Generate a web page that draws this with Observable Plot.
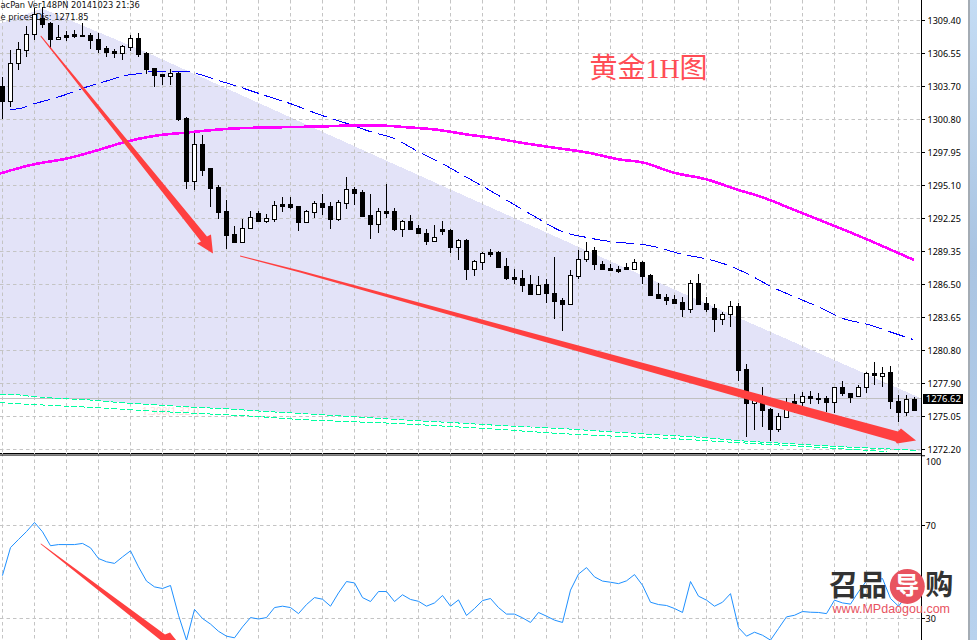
<!DOCTYPE html>
<html>
<head>
<meta charset="utf-8">
<script src="https://cdn.jsdelivr.net/npm/d3@7"></script>
<script src="https://cdn.jsdelivr.net/npm/@observablehq/plot@0.6"></script>
<style>
html,body{margin:0;padding:0;background:#fff;overflow:hidden}
#wrap{position:relative;width:977px;height:640px;overflow:hidden}
#wrap svg{display:block}
#bar1{position:absolute;left:968px;top:0;width:2px;height:640px;background:#a4acb4}
#bar2{position:absolute;left:970px;top:0;width:7px;height:640px;background:linear-gradient(#c4dcf4,#a9c4e2 40%,#b8d2ee)}
</style>
</head>
<body>
<div id="wrap"><div id="bar1"></div><div id="bar2"></div></div>
<script>
const opens=[1303.57,1302.28,1305.56,1306.68,1308.06,1309.45,1309.01,1307.63,1307.98,1308.06,1307.98,1307.98,1307.63,1306.85,1306.60,1306.42,1306.94,1307.72,1306.42,1305.13,1304.61,1304.44,1304.70,1300.81,1295.37,1298.56,1296.49,1294.85,1292.78,1290.79,1290.10,1291.31,1292.60,1291.91,1292.09,1293.38,1293.38,1293.21,1291.83,1292.69,1293.47,1293.21,1292.09,1293.47,1294.68,1294.42,1292.43,1291.66,1292.78,1292.78,1291.22,1291.91,1291.31,1290.88,1290.19,1291.22,1291.14,1289.67,1290.27,1287.77,1288.37,1289.24,1289.24,1288.03,1287.08,1286.99,1286.47,1285.61,1286.47,1285.70,1285.09,1284.75,1287.16,1288.63,1289.41,1288.20,1287.86,1287.77,1287.94,1287.77,1288.37,1287.25,1285.61,1285.35,1285.18,1284.92,1284.31,1286.56,1284.83,1284.40,1283.45,1283.88,1284.57,1279.13,1276.20,1276.46,1275.68,1273.95,1274.99,1276.37,1276.28,1276.80,1276.63,1276.63,1276.28,1277.58,1277.06,1276.80,1277.58,1278.79,1278.53,1278.87,1276.37,1275.42,1276.54];
const highs=[1304.35,1306.68,1307.37,1308.75,1310.31,1310.40,1309.10,1308.84,1308.32,1308.41,1309.01,1308.15,1308.15,1307.03,1306.77,1307.11,1307.98,1308.15,1306.51,1305.13,1304.61,1305.04,1304.78,1300.90,1299.51,1299.34,1296.49,1295.02,1293.73,1291.48,1292.09,1292.78,1292.78,1292.52,1293.64,1293.99,1293.99,1293.21,1292.86,1293.64,1294.25,1293.56,1293.73,1295.71,1294.85,1294.59,1294.25,1293.04,1295.11,1293.04,1292.00,1292.43,1291.57,1291.22,1291.57,1291.91,1291.22,1290.36,1290.36,1288.55,1289.24,1289.50,1289.32,1288.72,1287.77,1287.68,1287.25,1287.16,1286.91,1288.81,1285.26,1287.68,1289.41,1290.10,1289.67,1288.46,1288.20,1288.03,1288.29,1288.63,1288.46,1287.34,1286.56,1285.61,1285.52,1285.35,1286.82,1287.34,1285.35,1284.75,1284.06,1285.01,1284.83,1279.57,1277.06,1277.58,1275.77,1275.33,1276.63,1276.97,1277.15,1277.23,1277.06,1276.80,1277.58,1278.10,1277.06,1277.75,1278.87,1279.74,1279.31,1279.39,1276.89,1276.89,1276.71];
const lows=[1300.72,1301.76,1304.95,1306.08,1307.55,1308.58,1306.77,1307.55,1307.46,1307.72,1307.80,1306.77,1306.42,1306.08,1305.99,1305.82,1306.60,1306.08,1304.61,1303.49,1303.66,1303.66,1300.55,1294.68,1294.59,1295.80,1293.12,1292.09,1289.50,1290.10,1290.01,1291.22,1291.83,1291.74,1291.83,1292.69,1292.95,1291.05,1291.74,1292.17,1292.43,1291.22,1291.91,1292.95,1293.30,1292.26,1290.36,1290.88,1292.17,1291.05,1290.53,1291.14,1290.88,1289.84,1290.19,1290.71,1289.15,1288.55,1286.82,1287.16,1287.68,1288.81,1287.86,1286.82,1286.47,1285.78,1285.52,1285.52,1284.83,1283.45,1282.41,1284.66,1286.91,1288.37,1287.68,1287.68,1287.60,1287.42,1287.68,1287.77,1286.47,1285.44,1285.18,1284.66,1284.75,1283.62,1283.97,1284.66,1284.06,1282.33,1282.93,1282.76,1278.10,1273.26,1273.87,1274.12,1272.92,1273.69,1274.99,1275.33,1275.94,1276.11,1276.11,1275.42,1275.33,1276.80,1276.20,1276.71,1277.06,1277.75,1277.58,1275.68,1274.56,1275.07,1275.51];
const closes=[1302.28,1305.56,1306.77,1308.06,1309.79,1308.93,1307.63,1307.80,1307.80,1307.89,1307.89,1307.55,1306.77,1306.51,1306.42,1307.03,1307.72,1306.34,1305.04,1304.52,1304.44,1304.70,1300.72,1295.37,1298.56,1296.32,1294.76,1292.69,1290.71,1290.10,1291.31,1292.26,1291.91,1292.17,1293.30,1293.21,1293.12,1291.83,1292.78,1293.47,1293.12,1292.09,1293.56,1294.68,1294.33,1292.35,1291.66,1292.78,1292.60,1291.22,1291.91,1291.22,1290.88,1290.19,1290.53,1291.05,1289.67,1290.27,1287.77,1288.46,1289.15,1289.06,1287.94,1286.99,1286.91,1286.39,1285.61,1286.39,1285.70,1285.01,1284.75,1287.25,1288.63,1289.32,1288.20,1287.77,1287.68,1287.60,1287.77,1288.37,1287.16,1285.52,1285.26,1285.09,1284.83,1284.31,1286.56,1284.75,1284.31,1283.45,1283.88,1284.57,1279.05,1276.20,1276.63,1275.59,1273.95,1275.07,1275.85,1276.20,1276.80,1276.63,1276.54,1276.28,1277.58,1277.06,1276.71,1277.58,1278.79,1278.61,1278.79,1276.37,1275.42,1276.54,1275.59];

const blueIdx=[0.94,2.19,4.06,5.94,7.94,10.31,12.81,15.31,17.19,18.44,20.31,22.81,24.69,26.56,29.06,30.94,32.81,35.94,39.94,43.06,45.94,48.94,51.94,54.94,58.06,60.94,63.94,66.94,69.94,73.06,75.06,77.19,80.06,81.94,83.69,85.06,87.19,90.06,93.06,96.06,99.19,102.19,105.06,108.19,111.19,113.81];
const blueVal=[1301.59,1301.67,1302.10,1302.45,1302.88,1303.49,1304.00,1304.48,1304.70,1304.83,1304.87,1304.83,1304.61,1304.18,1303.66,1303.23,1302.80,1302.10,1301.09,1300.40,1299.71,1299.06,1297.99,1296.90,1295.74,1294.59,1293.38,1292.17,1291.05,1290.53,1290.27,1290.10,1289.93,1289.67,1289.32,1289.06,1288.81,1288.29,1287.42,1286.30,1285.35,1284.49,1283.54,1283.02,1282.33,1281.72];
const magentaIdx=[-0.31,3.81,8.06,12.19,15.06,19.31,23.06,28.81,33.06,39.69,43.81,46.94,50.94,54.06,58.06,61.81,64.69,68.81,73.06,77.19,80.06,83.81,88.06,91.81,94.69,100.06,106.31,113.81];
const magentaVal=[1296.09,1296.84,1297.36,1298.13,1298.76,1299.34,1299.63,1299.92,1300.06,1300.12,1300.23,1300.20,1300.01,1299.83,1299.43,1299.08,1298.76,1298.31,1297.87,1297.27,1297.01,1296.17,1295.54,1294.70,1294.10,1292.58,1290.90,1288.63];
const greenUpIdx=[-0.31,1.19,3.81,7.19,10.06,13.06,16.31,20.56,24.69,27.19,33.06,39.31,45.56,49.31,55.94,62.19,69.69,77.44,81.31,87.56,91.81,98.06,104.31,109.69,114.44];
const greenUpVal=[1276.95,1276.97,1276.80,1276.63,1276.54,1276.37,1276.20,1276.02,1275.85,1275.77,1275.51,1275.25,1274.99,1274.82,1274.60,1274.30,1274.00,1273.69,1273.52,1273.26,1273.00,1272.74,1272.48,1272.31,1272.10];
const greenLoIdx=[-0.31,3.81,6.31,11.31,15.56,19.69,24.69,31.81,37.19,43.06,49.31,55.94,62.19,69.69,77.44,83.44,89.69,93.81,98.06,104.31,110.56];
const greenLoVal=[1276.28,1276.11,1276.02,1275.85,1275.68,1275.51,1275.33,1275.07,1274.82,1274.64,1274.47,1274.21,1273.95,1273.65,1273.35,1273.17,1272.91,1272.74,1272.57,1272.31,1272.05];
const channelTopIdx=[-0.31,4.94,18.06,47.94,77.19,114.875,114.875];
const channelTopVal=[1309.01,1310.31,1306.51,1297.18,1288.12,1276.63,1272.10];

const rsi=[48.6,60.5,64.0,67.4,71.3,67.3,61.3,61.8,61.8,61.8,62.3,60.4,55.8,54.4,53.7,56.5,59.1,52.2,46.1,43.6,42.9,44.2,31.4,20.7,33.9,30.0,27.6,24.5,22.4,21.7,26.4,30.4,29.8,30.4,34.7,35.3,34.7,32.1,36.0,39.0,38.3,35.3,41.0,45.9,45.3,39.0,37.3,41.6,41.6,37.3,40.2,38.2,37.4,35.3,36.7,39.9,35.3,38.0,31.3,34.3,37.7,38.6,34.7,31.9,31.9,30.3,28.3,32.6,31.0,29.3,28.3,42.2,49.1,51.9,47.9,46.1,45.6,45.0,46.2,48.9,44.3,37.0,36.0,35.6,34.3,32.6,45.9,39.6,37.9,35.3,37.0,40.7,26.1,22.4,24.1,22.8,20.7,25.7,30.7,31.4,33.0,32.7,32.6,32.1,37.9,36.7,36.2,41.5,46.2,46.2,47.2,38.6,35.3,39.7,38.3];

const arrow1Idx=[4.81,25.56,26.06,26.31,24.31,24.81,4.75];
const arrow1Val=[1307.98,1290.62,1290.79,1289.15,1290.01,1290.19,1307.93];
const arrow2Idx=[29.69,37.19,111.94,112.31,114.19,111.81,111.61,37.19,29.69];
const arrow2Val=[1288.98,1287.69,1273.78,1274.04,1273.00,1272.74,1272.95,1287.47,1288.90];
const arrow3Idx=[4.81,20.31,20.94,22.94,19.44,19.81,4.75];
const arrow3Val=[62.26,23.12,23.98,15.38,16.24,20.54,62.0];

const priceGrid=[1309.25,1306.40,1303.55,1300.70,1297.85,1295.00,1292.15,1289.30,1286.45,1283.60,1280.75,1277.90,1275.05,1272.20];
const priceLabels=["1309.40","1306.55","1303.70","1300.80","1297.95","1295.10","1292.25","1289.35","1286.50","1283.65","1280.80","1277.90","1275.05","1272.20"];
const rsiTicks=[100,70,30];
const timeGrid=d3.range(0,115,4);
const currentPrice=1276.62;
const headerLines=["acPan Ver148PN 20141023 21:36","e prices Dis: 1271.85"];

const pts=(xs,ys)=>xs.map((x,k)=>({x,y:ys[k]}));
const candles=opens.map((o,i)=>({i,open:o,high:highs[i],low:lows[i],close:closes[i],top:Math.max(o,closes[i]),bot:Math.min(o,closes[i])}));
const upBars=candles.filter(d=>d.close>d.open);
const downBars=candles.filter(d=>d.close<=d.open);
const channel=pts(channelTopIdx,channelTopVal).concat(pts(greenUpIdx,greenUpVal).reverse());

const FONT='"Noto Sans","DejaVu Sans",sans-serif';
const CJK='"Liberation Serif","Noto Sans CJK SC",serif';
const xScale={domain:[-0.25,114.875],range:[0,921],axis:null};
const gridStyle={stroke:"#c4c4c4",strokeDasharray:"3.5,3",strokeWidth:1};
const RED="#ff4040";
const maOpts={x:"x",y:"y",curve:"monotone-x",shapeRendering:"crispEdges"};

const main=Plot.plot({
  width:977,height:453,marginTop:0,marginBottom:0,marginLeft:0,marginRight:56,
  style:{fontFamily:FONT,fontSize:"9px",color:"#000",background:"transparent",overflow:"visible"},
  x:xScale,
  y:{domain:[1271.88,1311],range:[453,0],round:true},
  marks:[
    Plot.line(channel,{x:"x",y:"y",fill:"#e3e3f8",stroke:"none",curve:"linear",shapeRendering:"crispEdges"}),
    Plot.text(["1.308(1.327)"],{x:[21],y:[1275.51],text:d=>d,fill:"#fbdcdc",fontSize:10}),
    Plot.ruleY(priceGrid,gridStyle),
    Plot.ruleX(timeGrid,gridStyle),
    Plot.ruleY([currentPrice],{stroke:"#c0c0c0"}),
    Plot.text(headerLines,{x:[-0.25,-0.25],y:[1310.61,1309.56],text:d=>d,textAnchor:"start",fill:"#111",fontSize:8.3,fontFamily:'"DejaVu Sans"'}),
    Plot.line(pts(greenUpIdx,greenUpVal),{...maOpts,stroke:"#00ffa0",strokeDasharray:"5,3",strokeWidth:1}),
    Plot.line(pts(greenLoIdx,greenLoVal),{...maOpts,stroke:"#00ffa0",strokeDasharray:"5,3",strokeWidth:1}),
    Plot.line(pts(blueIdx,blueVal),{...maOpts,stroke:"#0000ff",strokeWidth:1,strokeDasharray:"17,7"}),
    Plot.line(pts(magentaIdx,magentaVal),{...maOpts,stroke:"#ff00ff",strokeWidth:2.6}),
    Plot.ruleX(candles,{x:"i",y1:"low",y2:"high",stroke:"#000",strokeWidth:1}),
    Plot.rect(upBars,{x1:d=>d.i-0.25,x2:d=>d.i+0.25,y1:"bot",y2:"top",fill:"#fff",stroke:"#000",strokeWidth:1,dx:0.5,dy:0.5}),
    Plot.rect(downBars,{x1:d=>d.i-0.25,x2:d=>d.i+0.25,y1:"bot",y2:"top",fill:"#000",stroke:"#000",strokeWidth:1,dx:0.5,dy:0.5}),
    Plot.line(pts(arrow1Idx,arrow1Val),{x:"x",y:"y",fill:RED,stroke:"none"}),
    Plot.line(pts(arrow2Idx,arrow2Val),{x:"x",y:"y",fill:RED,stroke:"none"}),
    Plot.text(["黄金1H图"],{x:[80.75],y:[1305.04],text:d=>d,fill:"#ff4d55",fontSize:28,fontFamily:CJK}),
    Plot.ruleX([114.875],{stroke:"#000"}),
    Plot.ruleY([1271.92],{stroke:"#000"}),
    Plot.axisY({anchor:"right",ticks:priceGrid,label:null,tickSize:3,tickFormat:()=>""}),
    Plot.axisY({anchor:"right",ticks:priceGrid,label:null,tickSize:0,tickPadding:6,dy:1,
      tickFormat:d=>priceLabels[priceGrid.indexOf(d)],textAnchor:"start"}),
    Plot.rect([0],{x1:[115.125],x2:[120.125],y1:[1276.14],y2:[1276.97],fill:"#000"}),
    Plot.text([currentPrice.toFixed(2)],{x:[117.6],y:[currentPrice],text:d=>d,fill:"#fff",fontSize:9.5})
  ]
});

const sub=Plot.plot({
  width:977,height:187,marginTop:0,marginBottom:0,marginLeft:0,marginRight:56,
  style:{fontFamily:FONT,fontSize:"9px",color:"#000",background:"transparent"},
  x:xScale,
  y:{domain:[20.54,100.97],range:[187,0]},
  marks:[
    Plot.ruleY([70,30],gridStyle),
    Plot.ruleX(timeGrid,gridStyle),
    Plot.line(rsi.map((v,i)=>({i,v})),{x:"i",y:"v",stroke:"#1e90ff",strokeWidth:1}),
    Plot.line(pts(arrow3Idx,arrow3Val),{x:"x",y:"y",fill:RED,stroke:"none"}),
    Plot.ruleX([114.875],{stroke:"#000"}),
    Plot.ruleY([100.3],{stroke:"#000"}),
    Plot.axisY({anchor:"right",ticks:rsiTicks,label:null,tickSize:3,tickFormat:()=>""}),
    Plot.axisY({anchor:"right",ticks:[70,30],label:null,tickSize:0,tickPadding:4,dy:1,textAnchor:"start"}),
    Plot.text(["100"],{x:[115.4],y:[97.4],text:d=>d,textAnchor:"start",fontSize:9,fill:"#000"}),
    Plot.text(["召品"],{x:[106.94],y:[43.8],text:d=>d,fontSize:29,fontWeight:700,fontFamily:'"Noto Sans CJK SC"',fill:"#333"}),
    Plot.dot([0],{x:[113.1],y:[43.8],r:17.5,fill:"#e8535f",stroke:"none"}),
    Plot.text(["导"],{x:[113.1],y:[43.8],text:d=>d,fontSize:24,fontWeight:700,fontFamily:'"Noto Sans CJK SC"',fill:"#fff"}),
    Plot.text(["购"],{x:[117.1],y:[43.8],text:d=>d,fontSize:28,fontWeight:700,fontFamily:'"Noto Sans CJK SC"',fill:"#333"}),
    Plot.text(["www.MPdaogou.com"],{x:[111.1],y:[34],text:d=>d,fontSize:12.5,fontFamily:'"Liberation Sans"',fill:"#e8535f",letterSpacing:"0.6px"})
  ]
});

const wrap=document.getElementById("wrap");
wrap.prepend(sub);
wrap.prepend(main);
</script>
</body>
</html>
